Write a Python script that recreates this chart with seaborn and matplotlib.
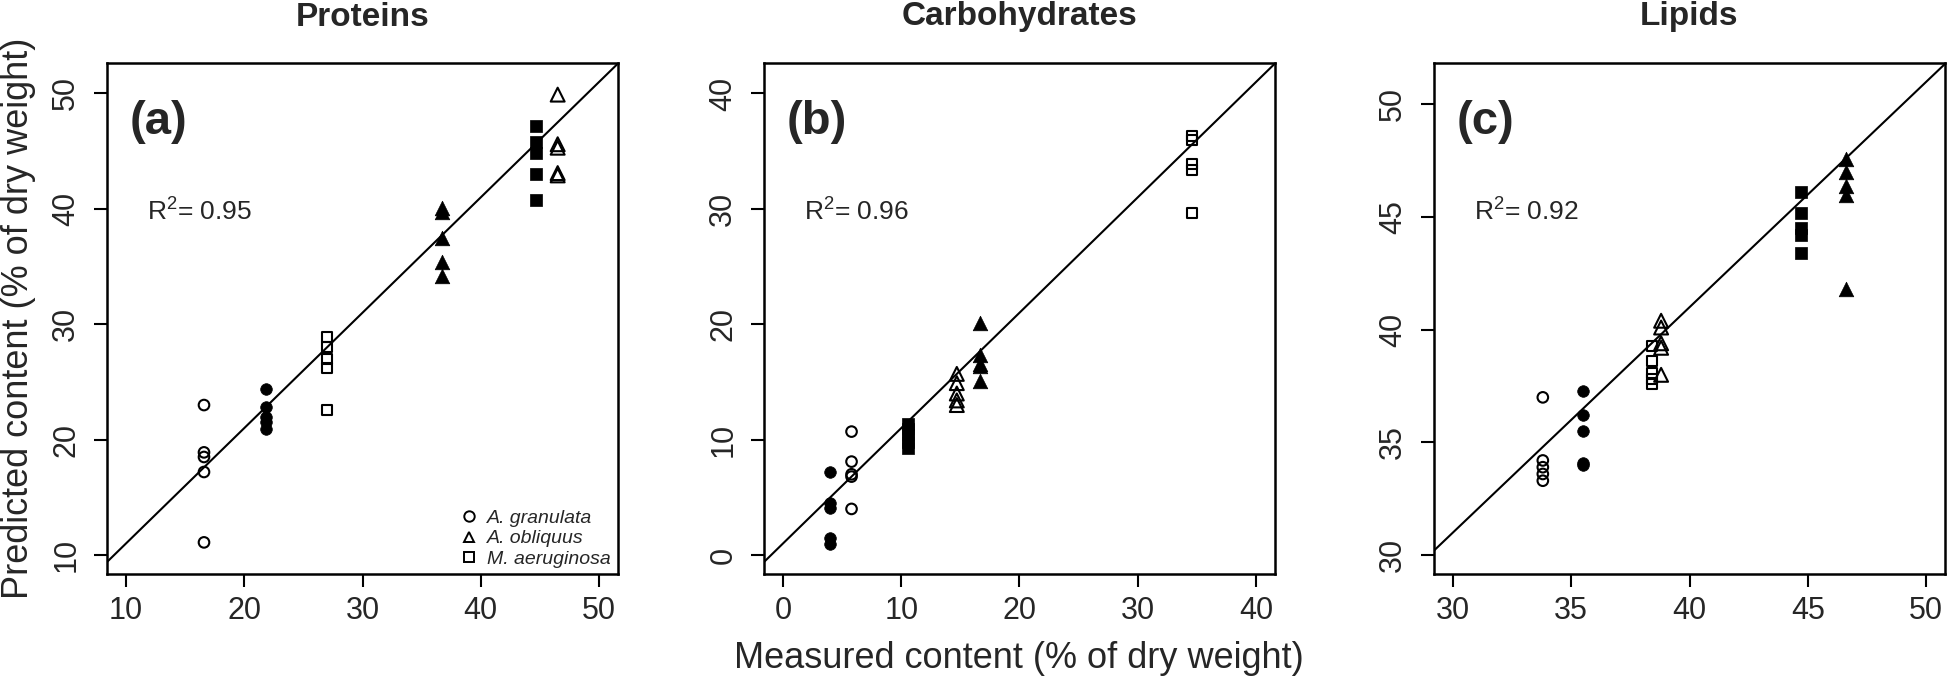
import numpy as np
import pandas as pd
import matplotlib
matplotlib.use("Agg")
import matplotlib.pyplot as plt
import seaborn as sns
from matplotlib.lines import Line2D

# ---------------- data ----------------
panel_titles = ["Proteins", "Carbohydrates", "Lipids"]
panel_tags = ["(a)", "(b)", "(c)"]
r2_values = [0.95, 0.96, 0.92]
species_names = ["A. granulata", "A. obliquus", "M. aeruginosa"]

group_species = ["A. granulata", "A. granulata", "A. obliquus",
                 "A. obliquus", "M. aeruginosa", "M. aeruginosa"]
group_filled = [False, True, False, True, False, True]

prot_measured = [16.6, 21.8, 46.5, 36.7, 27.0, 44.7]
prot_predicted = [
    [23.0, 18.9, 18.5, 17.2, 11.1],
    [24.4, 22.8, 22.0, 21.5, 20.9],
    [49.9, 45.6, 45.3, 43.1, 42.9],
    [40.1, 39.7, 37.5, 35.4, 34.2],
    [28.9, 28.0, 27.0, 26.2, 22.6],
    [47.2, 45.8, 44.8, 43.0, 40.8],
]
carb_measured = [5.8, 4.0, 14.7, 16.7, 34.6, 10.6]
carb_predicted = [
    [10.7, 8.1, 7.0, 6.8, 4.0],
    [7.2, 4.5, 4.1, 1.5, 1.0],
    [15.7, 14.9, 14.0, 13.4, 13.0],
    [20.1, 17.3, 16.6, 16.4, 15.1],
    [36.3, 36.0, 33.9, 33.4, 29.6],
    [11.4, 10.9, 10.4, 9.8, 9.3],
]
lip_measured = [33.8, 35.5, 38.8, 46.6, 38.4, 44.7]
lip_predicted = [
    [37.0, 34.2, 33.9, 33.6, 33.3],
    [37.3, 36.2, 35.5, 34.1, 34.0],
    [40.4, 40.1, 39.4, 39.2, 38.0],
    [47.6, 47.0, 46.4, 46.0, 41.8],
    [39.3, 38.6, 38.1, 37.8, 37.6],
    [46.1, 45.2, 44.5, 44.2, 43.4],
]

x_ranges = [(10, 50), (0, 40), (30, 50)]
y_ranges = [(10, 51), (0, 41), (30, 51)]
x_ticks = [[10, 20, 30, 40, 50], [0, 10, 20, 30, 40], [30, 35, 40, 45, 50]]
y_ticks = [[10, 20, 30, 40, 50], [0, 10, 20, 30, 40], [30, 35, 40, 45, 50]]
line_intercept = 1.0
line_slope = 1.0

measured_sets = [prot_measured, carb_measured, lip_measured]
predicted_sets = [prot_predicted, carb_predicted, lip_predicted]

rows = []
for p, (meas, preds) in enumerate(zip(measured_sets, predicted_sets)):
    for g, (mx, ys) in enumerate(zip(meas, preds)):
        for y in ys:
            rows.append(dict(panel=p, species=group_species[g],
                             filled=group_filled[g], measured=mx, predicted=y))
df = pd.DataFrame(rows)

# ---------------- style ----------------
sns.set_theme(style="ticks")
plt.rcParams["font.family"] = ["Liberation Sans", "DejaVu Sans"]
plt.rcParams["mathtext.fontset"] = "custom"
plt.rcParams["mathtext.rm"] = "Liberation Sans"
plt.rcParams["mathtext.it"] = "Liberation Sans:italic"

marker_map = {"A. granulata": "o", "A. obliquus": "^", "M. aeruginosa": "s"}
open_size = {"A. granulata": 58, "A. obliquus": 100, "M. aeruginosa": 52}
filled_size = {"A. granulata": 70, "A. obliquus": 110, "M. aeruginosa": 64}

W, H = 1947, 678
fig = plt.figure(figsize=(W / 100, H / 100), dpi=100)
ax_left_px = [107, 764, 1434]
ax_top_px = 63
ax_size_px = 511

def expand(r):
    d = (r[1] - r[0]) * 0.04
    return (r[0] - d, r[1] + d)

for p in range(3):
    ax = fig.add_axes([ax_left_px[p] / W, 1 - (ax_top_px + ax_size_px) / H,
                       ax_size_px / W, ax_size_px / H])
    sub = df[df.panel == p]
    for (sp, filled), g in sub.groupby(["species", "filled"], sort=False):
        if filled:
            kw = dict(color="black", edgecolor="black", s=filled_size[sp], linewidth=0.5)
        else:
            kw = dict(facecolor="none", edgecolor="black", s=open_size[sp], linewidth=1.5)
        sns.scatterplot(data=g, x="measured", y="predicted", marker=marker_map[sp],
                        ax=ax, legend=False, zorder=3, **kw)
    ax.axline((0, line_intercept), slope=line_slope, color="black", lw=1.5, zorder=2)
    ax.set_xlim(*expand(x_ranges[p]))
    ax.set_ylim(*expand(y_ranges[p]))
    ax.set_xticks(x_ticks[p])
    ax.set_yticks(y_ticks[p])
    ax.set_xlabel("")
    ax.set_ylabel("")
    ax.tick_params(direction="out", length=9.5, width=1.5, labelsize=22, color="black")
    ax.tick_params(axis="x", pad=6)
    ax.tick_params(axis="y", pad=9)
    for lab in ax.get_yticklabels():
        lab.set_rotation(90)
        lab.set_va("center")
    for s in ax.spines.values():
        s.set_linewidth(1.8)
        s.set_color("black")
    ax.set_title(panel_titles[p], fontsize=24, fontweight="bold", pad=27)
    ax.text(0.045, 0.885, panel_tags[p], transform=ax.transAxes, fontsize=34,
            fontweight="bold", ha="left", va="center")
    ax.text(0.078, 0.708, "R$^{2}$= %.2f" % r2_values[p], transform=ax.transAxes,
            fontsize=19, ha="left", va="center")
    if p == 0:
        handles = [Line2D([], [], ls="none", marker=marker_map[sp], markersize=7.5,
                          markerfacecolor="none", markeredgecolor="black",
                          markeredgewidth=1.4) for sp in species_names]
        ax.legend(handles, species_names, loc="lower right",
                  bbox_to_anchor=(0.986, 0.012), frameon=False,
                  prop=dict(size=14, style="italic"), handlelength=1.0,
                  handletextpad=0.45, labelspacing=0.15, borderaxespad=0.0,
                  borderpad=0.0)

fig.text(1019 / W, 1 - 668 / H, "Measured content (% of dry weight)",
         ha="center", va="baseline", fontsize=26)
fig.text(19 / W, 1 - (ax_top_px + ax_size_px / 2) / H,
         "Predicted content (% of dry weight)", ha="center", va="center",
         rotation=90, fontsize=26)

fig.savefig("out.png", dpi=100, facecolor="white")
